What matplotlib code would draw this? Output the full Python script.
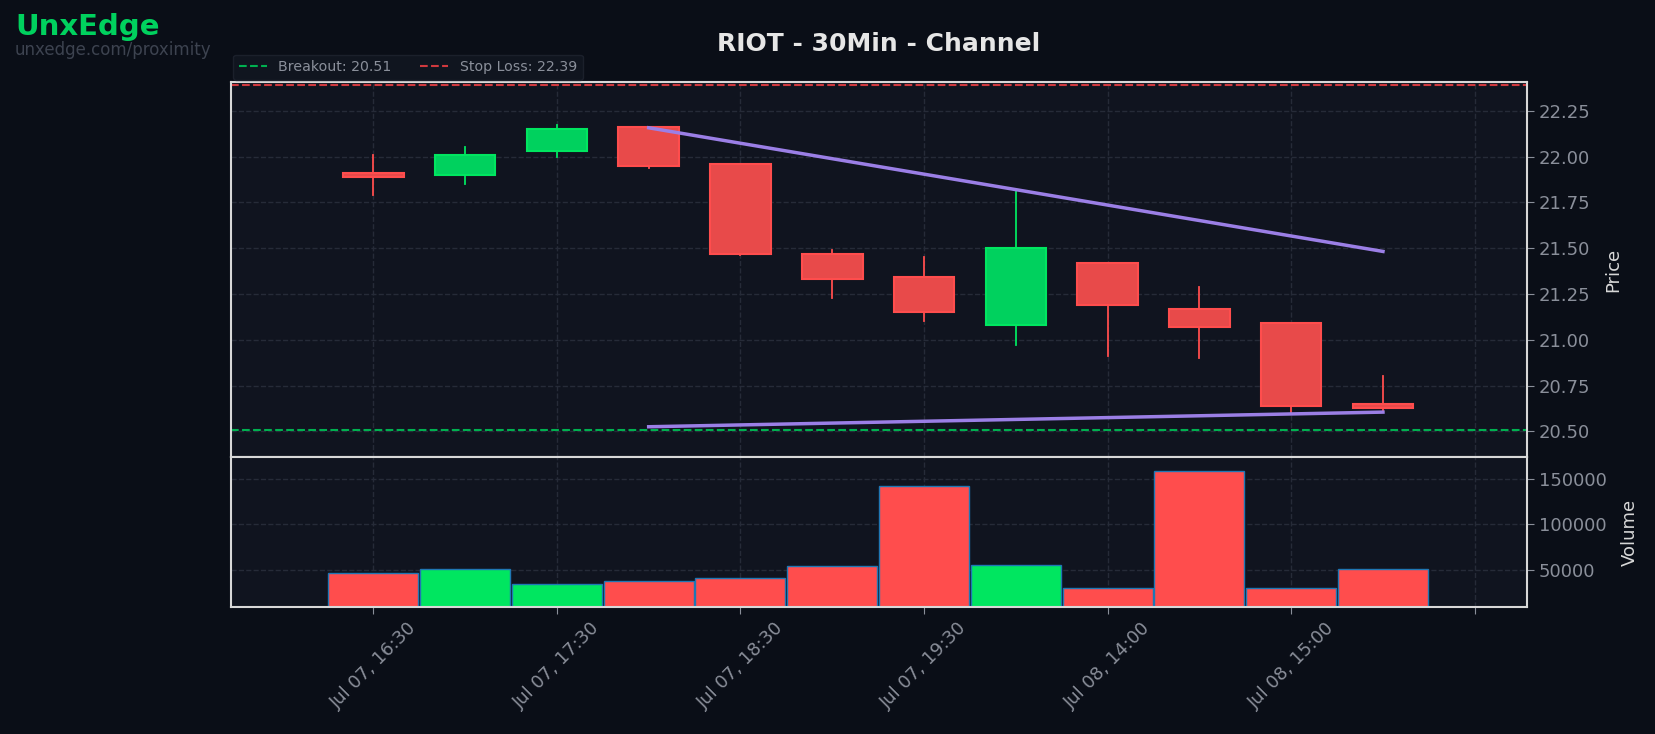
import matplotlib
matplotlib.use("Agg")
import matplotlib.pyplot as plt
from matplotlib.patches import Rectangle
from matplotlib.lines import Line2D

# candle data (30 min bars)
times = ["Jul 07, 16:30", "Jul 07, 17:00", "Jul 07, 17:30", "Jul 07, 18:00",
         "Jul 07, 18:30", "Jul 07, 19:00", "Jul 07, 19:30", "Jul 08, 13:30",
         "Jul 08, 14:00", "Jul 08, 14:30", "Jul 08, 15:00", "Jul 08, 15:30"]
opens = [21.91, 21.90, 22.03, 22.16, 21.96, 21.47, 21.34, 21.08, 21.42, 21.17, 21.09, 20.65]
highs = [22.01, 22.05, 22.17, 22.16, 21.96, 21.49, 21.45, 21.81, 21.42, 21.29, 21.09, 20.80]
lows = [21.79, 21.85, 22.00, 21.94, 21.46, 21.23, 21.10, 20.97, 20.91, 20.90, 20.60, 20.61]
closes = [21.89, 22.01, 22.15, 21.95, 21.47, 21.33, 21.15, 21.50, 21.19, 21.07, 20.64, 20.63]
volumes = [46700, 50400, 34400, 37800, 41100, 53700, 142400, 54800, 29300, 158100, 29300, 50700]

breakout = 20.51
stop_loss = 22.39
# channel lines: (start index, end index), (start price, end price)
upper_x = [3, 11]
upper_y = [22.157, 21.482]
lower_x = [3, 11]
lower_y = [20.525, 20.605]

BG = "#0a0e17"
AX_BG = "#10141f"
GREEN = "#00d15e"
GREEN_EDGE = "#00e660"
RED = "#e84a4a"
RED_EDGE = "#ff4d4d"
GRID = "#262b38"
TICK = "#8a8f9a"

fig = plt.figure(figsize=(16.55, 7.34), dpi=100, facecolor=BG)
ax = fig.add_axes([0.1396, 0.3774, 0.7831, 0.5109])
axv = fig.add_axes([0.1396, 0.1730, 0.7831, 0.2044], sharex=ax)

for a in (ax, axv):
    a.set_facecolor(AX_BG)
    for s in a.spines.values():
        s.set_color("#d8d8d8")
        s.set_linewidth(1.5)
    a.yaxis.tick_right()
    a.yaxis.set_label_position("right")
    a.tick_params(colors=TICK, labelsize=13, length=5)
    a.grid(True, color=GRID, linestyle="--", linewidth=1)
    a.set_axisbelow(True)

# candles
w = 0.66
for i in range(len(opens)):
    up = closes[i] >= opens[i]
    fc = GREEN if up else RED
    ec = GREEN_EDGE if up else RED_EDGE
    ax.plot([i, i], [lows[i], highs[i]], color=ec, linewidth=1.3, zorder=2)
    lo = min(opens[i], closes[i])
    h = abs(closes[i] - opens[i])
    ax.add_patch(Rectangle((i - w / 2, lo), w, h, facecolor=fc, edgecolor=ec,
                           linewidth=1.5, zorder=3))

ax.axhline(breakout, color="#00b050", linestyle="--", linewidth=1.5, zorder=1)
ax.axhline(stop_loss, color="#d0393e", linestyle="--", linewidth=1.5, zorder=1)
ax.plot(upper_x, upper_y, color="#9b7fe6", linewidth=2.5, zorder=4)
ax.plot(lower_x, lower_y, color="#9b7fe6", linewidth=2.5, zorder=4)

ax.set_xlim(-1.55, 12.57)
ax.set_ylim(20.36, 22.407)
ax.set_yticks([20.50, 20.75, 21.00, 21.25, 21.50, 21.75, 22.00, 22.25])
ax.set_yticklabels([f"{v:.2f}" for v in ax.get_yticks()])
ax.set_ylabel("Price", color="#d8d8d8", fontsize=13, labelpad=10)
ax.tick_params(axis="x", labelbottom=False, length=0)

handles = [Line2D([], [], color="#00b050", linestyle="--", linewidth=1.5),
           Line2D([], [], color="#d0393e", linestyle="--", linewidth=1.5)]
leg = ax.legend(handles, [f"Breakout: {breakout:.2f}", f"Stop Loss: {stop_loss:.2f}"],
                loc="lower left", bbox_to_anchor=(0, 1.0), ncol=2, fontsize=10.2,
                frameon=True, facecolor="#121722", edgecolor="#1f2430",
                borderaxespad=0.15, columnspacing=2.0)
for t in leg.get_texts():
    t.set_color(TICK)

ax.set_title("RIOT - 30Min - Channel", color="#e6e6e6", fontsize=18,
             fontweight="bold", pad=22)

# volume
vcols = [GREEN_EDGE if closes[i] >= opens[i] else RED_EDGE for i in range(len(volumes))]
axv.bar(range(len(volumes)), volumes, width=0.98, color=vcols,
        edgecolor="#1f77b4", linewidth=1)
axv.set_ylim(min(volumes) * 0.3, max(volumes) * 1.1)
axv.set_yticks([50000, 100000, 150000])
axv.set_yticklabels(["50000", "100000", "150000"])
axv.set_ylabel("Volume", color="#d8d8d8", fontsize=13, labelpad=10)

xt = list(range(0, 13, 2))
axv.set_xticks(xt)
axv.set_xticklabels([times[i] if i < len(times) else "" for i in xt],
                    rotation=45, ha="center")

fig.text(0.009, 0.982, "UnxEdge", color="#00d15e", fontsize=21,
         fontweight="bold", va="top", ha="left")
fig.text(0.009, 0.944, "unxedge.com/proximity", color="#3d4350", fontsize=12,
         va="top", ha="left")

fig.savefig("out.png", dpi=100, facecolor=BG)
